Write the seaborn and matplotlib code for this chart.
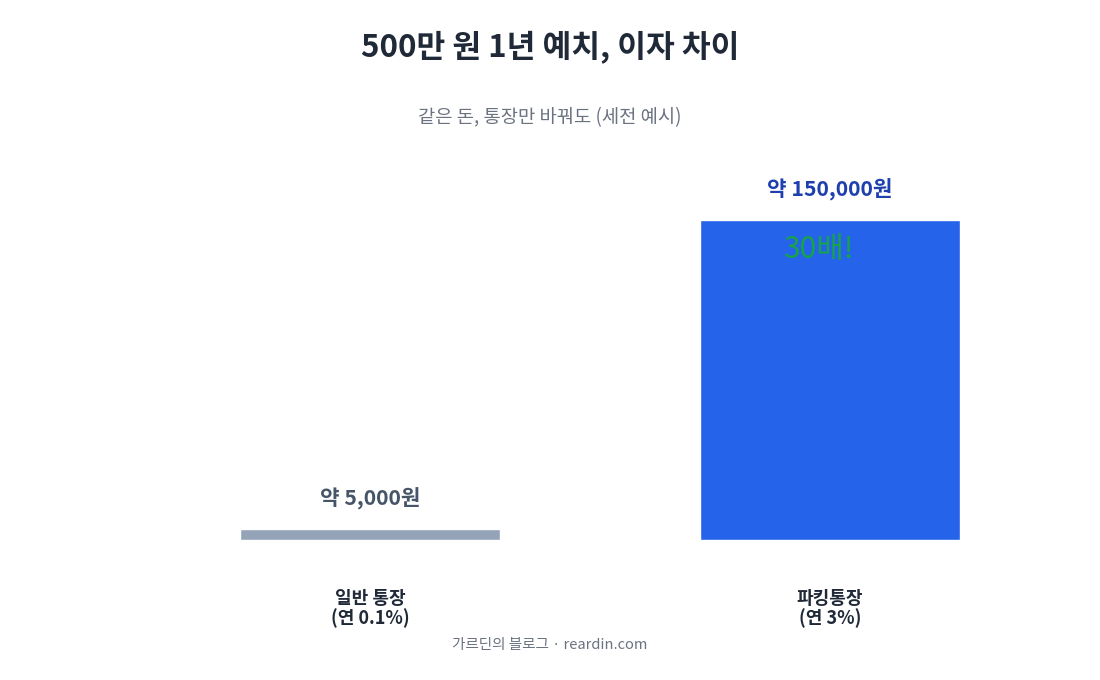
import matplotlib
matplotlib.use("Agg")
import matplotlib.pyplot as plt
import seaborn as sns
import pandas as pd

categories = ["일반 통장\n(연 0.1%)", "파킹통장\n(연 3%)"]
interest = [5000, 150000]
value_labels = ["약 5,000원", "약 150,000원"]
bar_colors = ["#94a3b8", "#2563eb"]
label_colors = ["#475569", "#1e40af"]

sns.set_theme(style="white")
plt.rcParams['font.family'] = ['Noto Sans CJK KR', 'DejaVu Sans']

df = pd.DataFrame({"account": categories, "interest": interest})

fig = plt.figure(figsize=(11, 6.8), dpi=100)
ax = fig.add_axes([140 / 1100, 140 / 680, 920 / 1100, 400 / 680])

sns.barplot(data=df, x="account", y="interest", hue="account",
            palette=bar_colors, width=0.565, legend=False, ax=ax,
            saturation=1)

ax.set_xlim(-0.5, 1.5)
ax.set_ylim(0, 150000 * 400 / 320)
sns.despine(ax=ax, left=True, bottom=True)
ax.set_yticks([])
ax.set_xlabel("")
ax.set_ylabel("")
ax.tick_params(axis="x", length=0, pad=35)
for t in ax.get_xticklabels():
    t.set_fontsize(13)
    t.set_fontweight("bold")
    t.set_color("#1f2937")
    t.set_linespacing(1.05)

# value labels above bars
for i, (v, lab) in enumerate(zip(interest, value_labels)):
    ax.annotate(lab, xy=(i, v), xytext=(0, 14), textcoords="offset points",
                ha="center", va="bottom", fontsize=15.3, fontweight="bold",
                color=label_colors[i])

ax.annotate("30배!", xy=(1, interest[1]), xytext=(-8, -10),
            textcoords="offset points", ha="center", va="top",
            fontsize=21.5, color="#16a34a")

fig.text(0.5, 1 - 48 / 680, "500만 원 1년 예치, 이자 차이", ha="center",
         va="center", fontsize=22.5, fontweight="bold", color="#1f2937")
fig.text(0.5, 1 - 118 / 680, "같은 돈, 통장만 바꿔도 (세전 예시)", ha="center",
         va="center", fontsize=13.5, color="#6b7280")
fig.text(0.5, 1 - 645 / 680, "가르딘의 블로그 · reardin.com", ha="center",
         va="center", fontsize=10.5, color="#6b7280")

fig.savefig("out.png", dpi=100, facecolor="white")
